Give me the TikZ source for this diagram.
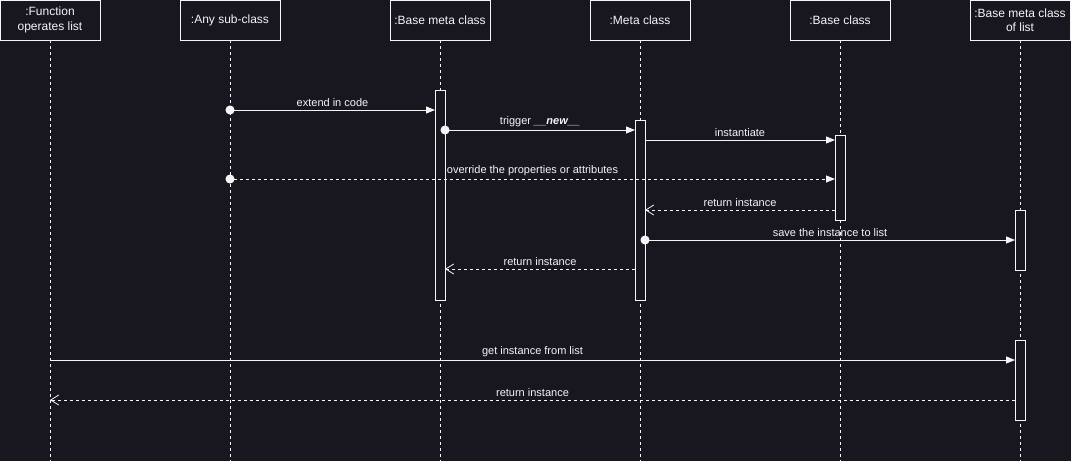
\documentclass[tikz,border=0pt]{standalone}
\usepackage{fontspec}
\setmainfont{Liberation Sans}
\usetikzlibrary{arrows.meta,positioning}
\definecolor{bgcolor}{RGB}{24,22,31}
\definecolor{linecolor}{RGB}{245,245,245}
\tikzset{
	head/.style={
		rectangle,
		draw=linecolor,
		line width=0.8pt,
		fill=bgcolor,
		text=linecolor,
		minimum width=100pt,
		minimum height=40pt,
		inner sep=0pt,
		outer sep=0pt,
		align=center,
		font=\fontsize{12}{14.5}\selectfont
	},
	lifeline/.style={
		draw=linecolor,
		line width=0.8pt,
		dash pattern=on 3pt off 3pt
	},
	activation/.style={
		rectangle,
		draw=linecolor,
		line width=0.8pt,
		fill=bgcolor,
		minimum width=10pt,
		inner sep=0pt,
		outer sep=0pt
	},
	call/.style={
		draw=linecolor,
		line width=0.8pt,
		-{Triangle[length=9pt,width=7pt]}
	},
	dotcall/.style={
		call,
		{Circle[length=9pt]}-{Triangle[length=9pt,width=7pt]},
		shorten <=-4.5pt
	},
	reply/.style={
		draw=linecolor,
		line width=0.8pt,
		dash pattern=on 3pt off 3pt,
		-{Straight Barb[length=8pt,width=10pt]}
	},
	dotreply/.style={
		draw=linecolor,
		line width=0.8pt,
		dash pattern=on 3pt off 3pt,
		{Circle[length=9pt]}-{Triangle[length=9pt,width=7pt]},
		shorten <=-4.5pt
	},
	msg/.style={
		above=2pt,
		inner sep=1pt,
		text=linecolor,
		font=\fontsize{11}{13}\selectfont
	},
}

\begin{document}
\begin{tikzpicture}[x=1pt, y=-1pt, node distance = 80pt]
		\fill [bgcolor] (0,0) rectangle (1071,461);
		\useasboundingbox (0,0) rectangle (1071,461);
		\node (func) [head] at (50,20) {:Function\\operates list};
		\node (sub) [head, right = of func] {:Any sub-class};
		\node (basemeta) [head, right = 110pt of sub] {:Base meta class};
		\node (meta) [head, right = 100pt of basemeta] {:Meta class};
		\node (base) [head, right = 100pt of meta] {:Base class};
		\node (metalist) [head, right = of base] {:Base meta class\\of list};
		\coordinate (bottom) at (0,461);
		\foreach \n in {func,sub,basemeta,meta,base,metalist}
			\draw [lifeline] (\n) -- (\n |- bottom);
		\node (basemetaact) [activation, minimum height=210pt, below = 50pt of basemeta] {};
		\node (metaact) [activation, minimum height=180pt, below = 80pt of meta] {};
		\node (baseact) [activation, minimum height=85pt, below = 95pt of base] {};
		\node (listact) [activation, minimum height=60pt, below = 170pt of metalist] {};
		\node (getact) [activation, minimum height=80pt, below = 300pt of metalist] {};
		\coordinate (extend) at (0,110);
		\coordinate (trigger) at (0,130);
		\coordinate (inst) at (0,140);
		\coordinate (override) at (0,179);
		\coordinate (ret1) at (0,210);
		\coordinate (save) at (0,240);
		\coordinate (ret2) at (0,269);
		\coordinate (get) at (0,360);
		\coordinate (ret3) at (0,400);
		\draw [dotcall] (sub |- extend) -- (basemetaact.west |- extend) node [msg, midway]{extend in code};
		\draw [dotcall] (basemetaact.east |- trigger) -- (metaact.west |- trigger) node [msg, midway]{trigger \textbf{\textit{\_\_new\_\_}}};
		\draw [call] (metaact.east |- inst) -- (baseact.west |- inst) node [msg, midway]{instantiate};
		\draw [dotreply] (sub |- override) -- (baseact.west |- override) node [msg, midway]{override the properties or attributes};
		\draw [reply] (baseact.west |- ret1) -- (metaact.east |- ret1) node [msg, midway]{return instance};
		\draw [dotcall] (metaact.east |- save) -- (listact.west |- save) node [msg, midway]{save the instance to list};
		\draw [reply] (metaact.west |- ret2) -- (basemetaact.east |- ret2) node [msg, midway]{return instance};
		\draw [call] (func |- get) -- (getact.west |- get) node [msg, midway]{get instance from list};
		\draw [reply] (getact.west |- ret3) -- (func |- ret3) node [msg, midway]{return instance};
\end{tikzpicture}
\end{document}
